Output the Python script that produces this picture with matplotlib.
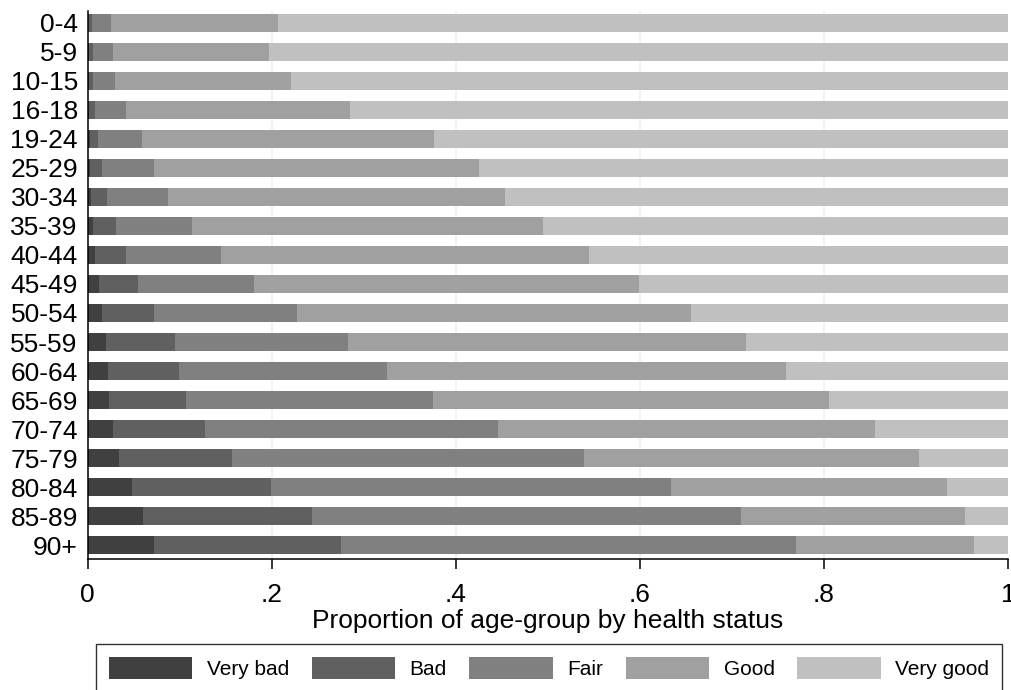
import numpy as np
import matplotlib.pyplot as plt

plt.rcParams['font.family'] = ['Liberation Sans', 'DejaVu Sans']

age_groups = ['0-4', '5-9', '10-15', '16-18', '19-24', '25-29', '30-34', '35-39',
              '40-44', '45-49', '50-54', '55-59', '60-64', '65-69', '70-74',
              '75-79', '80-84', '85-89', '90+']

# proportions, per age group
very_bad = [0.001, 0.0015, 0.0015, 0.002, 0.003, 0.0027, 0.0038, 0.0063, 0.0085, 0.0125,
            0.0158, 0.0201, 0.0219, 0.0234, 0.0277, 0.0342, 0.0484, 0.0603, 0.0723]
bad = [0.0035, 0.0045, 0.0045, 0.006, 0.008, 0.0131, 0.0172, 0.0247, 0.0335, 0.0425,
       0.0565, 0.075, 0.0776, 0.0836, 0.100, 0.1232, 0.1506, 0.1834, 0.2029]
fair = [0.0215, 0.022, 0.024, 0.034, 0.0486, 0.0562, 0.0665, 0.082, 0.103, 0.1256,
        0.1554, 0.1884, 0.2257, 0.2685, 0.3181, 0.3823, 0.435, 0.4663, 0.4945]
good = [0.181, 0.169, 0.1916, 0.243, 0.3164, 0.3535, 0.366, 0.382, 0.400, 0.4181,
        0.4283, 0.4323, 0.434, 0.4305, 0.4102, 0.3638, 0.300, 0.2438, 0.1939]
very_good = [0.793, 0.803, 0.7784, 0.715, 0.624, 0.5745, 0.5465, 0.505, 0.455, 0.4013,
             0.344, 0.2842, 0.2408, 0.194, 0.144, 0.0965, 0.066, 0.0462, 0.0364]

status = ['Very bad', 'Bad', 'Fair', 'Good', 'Very good']
colors = ['#404040', '#606060', '#808080', '#a0a0a0', '#c0c0c0']

fig = plt.figure(figsize=(10.11, 6.9), dpi=100)
ax = fig.add_axes([87.5 / 1011, 1 - 559 / 690, (1008 - 87.5) / 1011, (559 - 11) / 690])

y = np.arange(len(age_groups))
left = np.zeros(len(age_groups))
for name, vals, c in zip(status, [very_bad, bad, fair, good, very_good], colors):
    ax.barh(y, vals, left=left, height=0.62, color=c, label=name, zorder=2)
    left += np.array(vals)

ax.set_ylim(len(age_groups) - 1 + 0.48, -0.41)
ax.set_xlim(0, 1)
ax.set_yticks(y)
ax.set_yticklabels(age_groups)
ax.set_xticks([0, 0.2, 0.4, 0.6, 0.8, 1])
ax.set_xticklabels(['0', '.2', '.4', '.6', '.8', '1'])
ax.tick_params(axis='y', length=0, pad=7, labelsize=19)
ax.tick_params(axis='x', length=7.5, width=1.1, pad=10, labelsize=19)
ax.set_xlabel('Proportion of age-group by health status', fontsize=19, labelpad=1)

for gx in [0.2, 0.4, 0.6, 0.8]:
    ax.axvline(gx, color='#eaf2f3', lw=1.2, zorder=1)

for s in ['top', 'right']:
    ax.spines[s].set_visible(False)
ax.spines['left'].set_linewidth(1.1)
ax.spines['bottom'].set_linewidth(1.1)

leg = fig.legend(loc='upper left', ncol=5, mode='expand',
                 bbox_to_anchor=(96 / 1011, 1 - 645 / 690, (1002 - 96) / 1011, 0.001),
                 fontsize=15, frameon=True, fancybox=False, edgecolor='black',
                 handlelength=4.0, handleheight=1.25, handletextpad=0.7,
                 borderpad=0.62, borderaxespad=0)
leg.get_frame().set_linewidth(1.0)

fig.savefig('out.png', dpi=100)
